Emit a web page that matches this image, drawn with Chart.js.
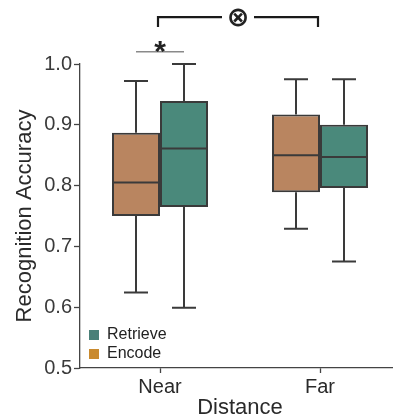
<!DOCTYPE html>
<html>
<head>
<meta charset="utf-8">
<script src="https://cdn.jsdelivr.net/npm/chart.js@4.4.1/dist/chart.umd.min.js"></script>
<style>
  html, body { margin: 0; padding: 0; background: #fff; overflow: hidden; }
  #wrap { width: 400px; height: 419px; }
</style>
</head>
<body>
<div id="wrap"><canvas id="grafico" width="400" height="419"></canvas></div>
<script>
const categorias = ['Near', 'Far'];
const series = ['Encode', 'Retrieve'];

// five-number summaries
const encodeMin = [0.624, 0.729];
const encodeQ1 = [0.750, 0.789];
const encodeMed = [0.805, 0.850];
const encodeQ3 = [0.887, 0.917];
const encodeMax = [0.972, 0.975];

const retrieveMin = [0.599, 0.675];
const retrieveQ1 = [0.765, 0.796];
const retrieveMed = [0.861, 0.847];
const retrieveQ3 = [0.939, 0.900];
const retrieveMax = [1.000, 0.975];

const yTicks = [0.5, 0.6, 0.7, 0.8, 0.9, 1.0];

const resumen = [
  { min: encodeMin, q1: encodeQ1, med: encodeMed, q3: encodeQ3, max: encodeMax },
  { min: retrieveMin, q1: retrieveQ1, med: retrieveMed, q3: retrieveQ3, max: retrieveMax }
];

const fillColors = ['#b98560', '#4a897b'];
const legendColors = ['#c98a2e', '#4a8078'];
const edge = '#3a3a3a';
const FONT = '"Liberation Sans", Arial, sans-serif';

// whiskers, medians, legend and significance marks
const cajas = {
  id: 'cajas',
  afterDatasetsDraw(chart) {
    const ctx = chart.ctx;
    const x = chart.scales.x, y = chart.scales.y;
    const area = chart.chartArea;
    ctx.save();
    ctx.strokeStyle = edge;
    ctx.lineWidth = 2;
    resumen.forEach((r, d) => {
      chart.getDatasetMeta(d).data.forEach((el, i) => {
        const cx = el.x, w = el.width;
        ctx.beginPath();
        ctx.moveTo(cx, y.getPixelForValue(r.q3[i]));
        ctx.lineTo(cx, y.getPixelForValue(r.max[i]));
        ctx.moveTo(cx - w / 4, y.getPixelForValue(r.max[i]));
        ctx.lineTo(cx + w / 4, y.getPixelForValue(r.max[i]));
        ctx.moveTo(cx, y.getPixelForValue(r.q1[i]));
        ctx.lineTo(cx, y.getPixelForValue(r.min[i]));
        ctx.moveTo(cx - w / 4, y.getPixelForValue(r.min[i]));
        ctx.lineTo(cx + w / 4, y.getPixelForValue(r.min[i]));
        ctx.moveTo(cx - w / 2 + 1, y.getPixelForValue(r.med[i]));
        ctx.lineTo(cx + w / 2 - 1, y.getPixelForValue(r.med[i]));
        ctx.stroke();
      });
    });

    // legend (Retrieve above Encode)
    ctx.font = '16px ' + FONT;
    ctx.textBaseline = 'middle';
    ctx.textAlign = 'left';
    [1, 0].forEach((d, k) => {
      const ly = area.bottom - 38 + k * 19;
      ctx.fillStyle = legendColors[d];
      ctx.fillRect(area.left + 9, ly, 10, 10);
      ctx.fillStyle = '#222';
      ctx.fillText(series[d], area.left + 27, ly + 5);
    });

    // "*" between Near boxes
    const m0 = chart.getDatasetMeta(0).data[0];
    const m1 = chart.getDatasetMeta(1).data[0];
    const ys = y.getPixelForValue(1.02);
    ctx.strokeStyle = '#8a8a8a';
    ctx.lineWidth = 1.5;
    ctx.beginPath();
    ctx.moveTo(m0.x, ys);
    ctx.lineTo(m1.x, ys);
    ctx.stroke();
    ctx.fillStyle = '#222';
    ctx.textAlign = 'center';
    ctx.textBaseline = 'alphabetic';
    ctx.font = 'bold 30px ' + FONT;
    ctx.fillText('*', (m0.x + m1.x) / 2, ys + 9);

    // bracket Near-Far with interaction mark
    const xa = x.getPixelForValue(0) - 2, xb = x.getPixelForValue(1) - 2;
    const yb = y.getPixelForValue(1.077), yl = y.getPixelForValue(1.061);
    const xm = (xa + xb) / 2;
    ctx.strokeStyle = '#1a1a1a';
    ctx.lineWidth = 2.2;
    ctx.beginPath();
    ctx.moveTo(xa, yl);
    ctx.lineTo(xa, yb);
    ctx.lineTo(xm - 16, yb);
    ctx.moveTo(xm + 16, yb);
    ctx.lineTo(xb, yb);
    ctx.lineTo(xb, yl);
    ctx.stroke();
    ctx.font = 'bold 27px "DejaVu Sans", sans-serif';
    ctx.textBaseline = 'middle';
    ctx.fillText('\u2297', xm, yb + 2);
    ctx.restore();
  }
};

new Chart(document.getElementById('grafico'), {
  type: 'bar',
  data: {
    labels: categorias,
    datasets: series.map((s, d) => ({
      label: s,
      data: categorias.map((c, i) => [resumen[d].q1[i], resumen[d].q3[i]]),
      backgroundColor: fillColors[d],
      borderColor: edge,
      borderWidth: 2,
      borderSkipped: false,
      barPercentage: 1,
      categoryPercentage: 0.6
    }))
  },
  options: {
    responsive: false,
    animation: false,
    layout: { padding: { top: 64, right: 0, left: 0, bottom: 0 } },
    plugins: { legend: { display: false }, tooltip: { enabled: false } },
    scales: {
      x: {
        offset: true,
        afterFit: s => { s.height = 51; },
        grid: { offset: false, drawOnChartArea: false, drawTicks: true, tickLength: 5, color: '#444', tickWidth: 1.3 },
        border: { display: true, color: '#444', width: 1.3 },
        ticks: { color: '#2a2a2a', padding: 2, font: { size: 20, family: FONT } },
        title: { display: true, text: 'Distance', color: '#2a2a2a', padding: { top: 0, bottom: 0 },
                 font: { size: 22, family: FONT, lineHeight: 1 } }
      },
      y: {
        min: 0.5,
        max: 1.0,
        afterFit: s => { s.width = 80; },
        afterBuildTicks: s => { s.ticks = yTicks.map(v => ({ value: v })); },
        grid: { drawOnChartArea: false, drawTicks: true, tickLength: 6, color: '#444', tickWidth: 1.3 },
        border: { display: true, color: '#444', width: 1.3 },
        ticks: { color: '#3a3a3a', padding: 2, font: { size: 20, family: FONT },
                 callback: v => v.toFixed(1) },
        title: { display: true, text: 'Recognition Accuracy', color: '#2a2a2a', padding: { top: 14, bottom: 0 },
                 font: { size: 22, family: FONT, lineHeight: 1 } }
      }
    }
  },
  plugins: [cajas]
});
</script>
</body>
</html>
